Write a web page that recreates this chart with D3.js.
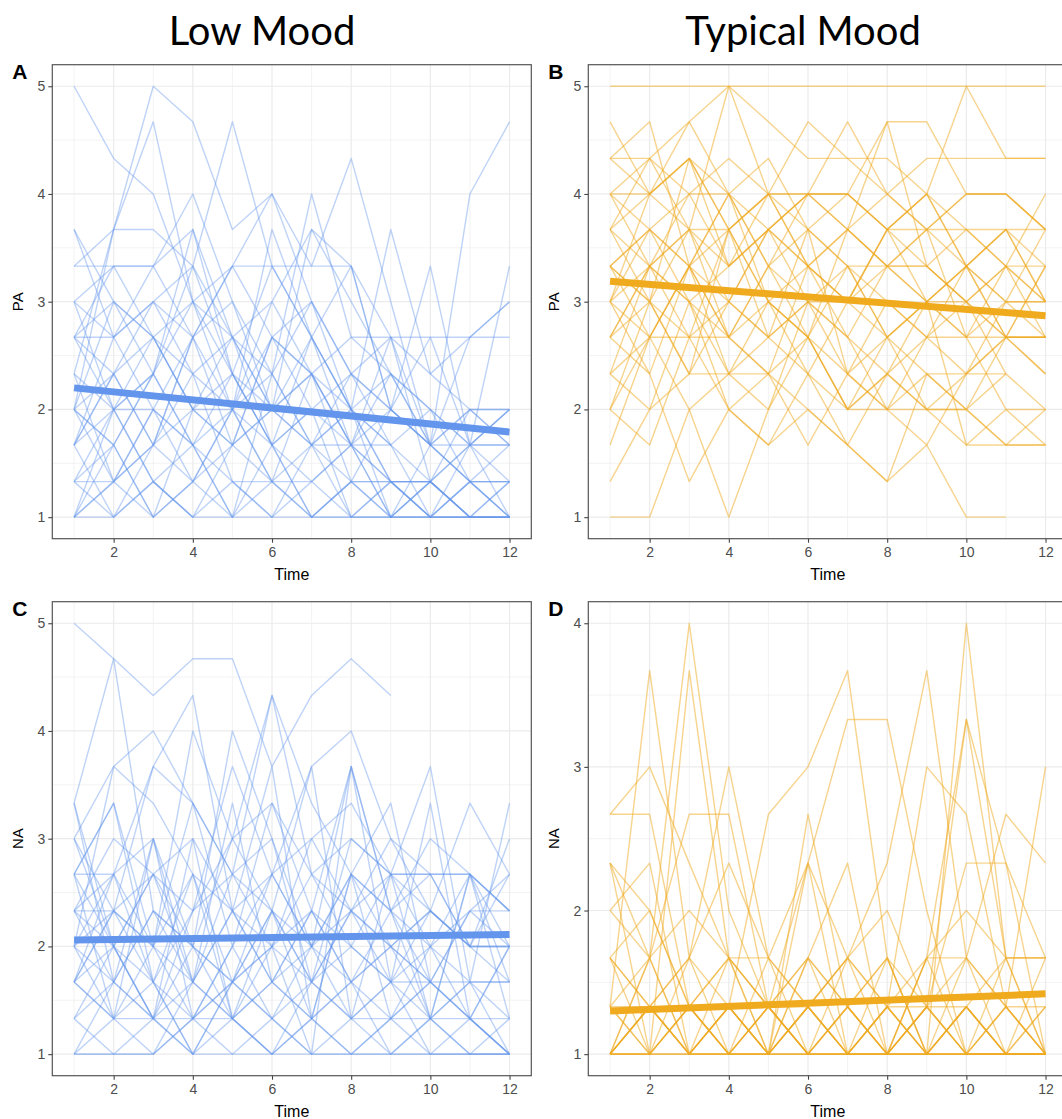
<!DOCTYPE html>
<html><head><meta charset="utf-8">
<script src="https://cdn.jsdelivr.net/npm/d3@7"></script>
<style>body{margin:0;background:#fff}svg{display:block}</style>
</head><body>
<svg id="chart" width="1062" height="1119"></svg>
<script>
const times = [1,2,3,4,5,6,7,8,9,10,11,12];
const columnTitles = ["Low Mood", "Typical Mood"];
const panelLetters = ["A","B","C","D"];
const yLabels = ["PA","PA","NA","NA"];
const xTicks = [2,4,6,8,10,12];
const yTicksPA = [1,2,3,4,5];
const yTicksNA_low = [1,2,3,4,5];
const yTicksNA_typ = [1,2,3,4];

// Panel A: PA, low mood participants
const lowPA = [
[5,4.33,4,3,2.33,2,1.67,2,1.33,1,1.33,1],
[3.33,3.67,5,4.67,3.67,4,3,2.33,2,1.67,2,1.67],
[2,3.67,4.67,3,2.67,2,2.33,1.67,1.33,1.33,1,1],
[1.67,2.33,3,3.33,4.67,3.33,2.67,2,2.33,1.67,1.33,1.33],
[2.67,3.33,3.33,4,3,2.33,4,2.67,2.67,2.67,2.67,3],
[1,1.67,2.33,3,3.33,4,3.33,4.33,3,1.67,4,4.67],
[3.67,2.67,2,1.67,2.33,3.33,2.67,2,3.67,2.33,2,2],
[3,2.67,3.33,3.67,2.67,3,3.67,3.33,2,3.33,1.67,3.33],
[2.33,3.67,3.67,3.33,2.67,2,1.67,1.33,1.33,1.33,1,1],
[3.33,3.33,3.33,2.67,3.33,3.33,3.33,3.33,2,1.67,2.67,3],
[1,1.33,2,2.67,3.33,2.67,2.33,1.67,1,1.33,1.67,2],
[2.67,2,1.33,1,1.67,2.67,2,1,1.33,1,1,1.33],
[2,1.67,1,1.33,2,1.67,1,1.33,2,2.67,1.67,1.67],
[1.33,1,1.67,2.33,1.33,1,1.67,2.33,1.67,1,1,1],
[2.67,3,2.33,1.67,1,2.33,3,2,1,1,1.33,1.67],
[1.67,2,2.67,2,1.67,1.33,1.33,1.67,2,1.67,null,null],
[1,1,1.33,1,1,1.33,1,1,1,1.33,1,1],
[2,2.33,1.67,2.67,3,2,2.33,2.67,2.33,2,1.67,2],
[3,2,2.33,3.33,2.33,1.67,2,1.67,1.33,1.33,1.67,1.33],
[1.33,1.67,1,2,2.67,2.33,1.67,1,1.33,1,1,1],
[2.33,1.33,2,1.33,1.67,2,2.67,1.67,2.67,1.33,2,1.67],
[1.67,1,1.33,1.67,1,1.67,1.33,1,1,1,1.33,1],
[2.67,2.67,3,2.33,2,3,2.33,1.67,1.67,2,1.67,1.67],
[1,2,1.33,1,1.33,1,1.33,1.67,1,1,1,1],
[2,3,2.67,2,2.33,1.67,2,2.33,2.67,2.33,2.67,2.67],
[3.67,3,2.67,2,2,2.67,3,2.33,2,1.67,1.33,1.33],
[1.33,1.33,1,1.33,2,1.33,1,1.33,1.33,1,1.67,1],
[2.33,2,2,1.67,1.33,1.33,1.67,2,1.33,1.33,1,1.33],
[1.67,2.67,3,2.67,1.67,2,3.67,3,2.33,1.67,1.67,2],
[2,1.67,2.33,3.67,2.33,1.67,1,1,1,1,1,1],
[1,1.33,1.67,1.33,1,1,1,1.33,1,1.33,1,1],
[2.67,2.33,1.67,2,1.67,2.67,2.33,2,1.67,null,null,null],
[3,3.33,2.67,2.33,2.67,1.67,2.67,3.33,2.67,1.67,2,2],
[1.33,2,2.33,1.67,2,2.33,1.67,1.67,2.33,2,1.33,1],
[2,1.33,1.67,2.67,2,1.33,2.33,1.33,1,1.67,1.33,1.33],
[1.67,2.33,2.67,3,2,3.67,2.67,2,1.67,1.33,null,null]
];

// Panel B: PA, typical mood participants
const typPA = [
[5,5,5,5,5,5,5,5,5,5,5,5],
[4.67,4,4.67,5,4.67,4.33,4.33,4.33,4,5,4.33,4.33],
[4.33,4.33,4.67,4,3.67,4,4,4.67,4.67,4,4,3.67],
[4,4,4.33,3.67,4,4,3.67,3.33,3,3.33,3.67,3],
[3.67,4.33,3.67,5,4,3.33,3,3.67,3,2.67,3.33,2.67],
[3.33,3,4.33,3.33,3.67,4,4.67,4,3.67,4,4,3.67],
[3,4,4.33,4,3.33,3.67,3.33,2.67,3,3.33,3,2.67],
[2.67,3.33,3.67,3,2.67,3,2.33,2,2.67,2.33,2.67,3.33],
[2.33,2,3,2.67,3.33,2.67,2,2.33,2,2,2.33,2],
[1,1,2,2.33,3,3.33,2.67,2,1.67,1,1,null],
[2,3,2.33,3.67,3,2.33,1.67,2.33,3,1.67,1.67,1.67],
[3.33,2.67,3.33,2.67,2.33,2,1.67,1.33,1.67,2.33,2.67,2.67],
[4,3.33,3.67,3.33,4,3.67,3.33,3.33,3.33,3.67,3.33,3],
[2.67,2.33,1.33,2,1.67,2.33,3,3.67,4,3.33,2.67,2.33],
[1.67,2.67,3.33,2.67,2.33,2.67,3.67,4.67,3.33,3,2.67,3.33],
[3,2.67,2.67,2.67,3,2.67,3.33,3,2.67,2.67,2.67,2.67],
[4.33,4.67,3.33,3.67,3,2.67,2,2.33,2,2,1.67,2],
[3.67,3.33,3,2,2.33,3.33,3,3.67,4,3.67,3.33,4],
[2.33,3.33,2.67,3,3.67,4,4,3.67,3.33,3,3.33,3.33],
[3.33,3.67,3,2.33,2.67,3.67,2.33,2,2,2.33,3,3.67],
[1.33,2,2.33,3,2.67,3,2.67,2.33,2.67,3,2.33,null],
[3,3.33,4,3.33,3.67,3.33,3.67,4,3.67,3.33,3.67,3.33],
[4,4.33,4,4.33,4,4,4,3.67,3.67,3.67,3.67,3.67],
[2.67,3,2.33,2.33,2.33,1.67,2.33,2.67,2.33,2,2.67,2.33],
[3.67,4,3.67,3.67,4,3.33,3,2.67,3,2.67,3,3],
[2,1.67,2.67,2,1.67,2,1.67,1.33,2.33,2,1.67,1.67],
[3.33,3.67,4,4,3.33,3,3,3.33,3,3.33,3,3],
[2.33,2.67,2,1,2,2.67,2.33,3,2.67,3.33,3.67,3],
[4,3.67,3.33,4,4.33,3.67,4,3.67,4,3.33,2.67,2.67],
[3,2.33,3.33,4,3,2.67,2,2.67,2,1.67,2,2],
[3.67,3,3.67,2.67,3.33,4,3.67,3.33,3.67,4,4,3.67],
[2.67,3.33,3,3.33,3.67,3,3.33,2.67,3,3,3.33,3],
[4.33,4,4.33,3.67,4,4.67,4.33,4,4.33,4.33,4.33,4.33],
[3.33,3,2.67,3.67,2.67,2.33,2,2,2.33,2.33,2.33,null],
[2,2.67,3.33,2.33,2,3,2.67,3.33,3.67,2.67,2,1.67],
[3,3.67,3.33,3,3.67,3.33,3.67,3.33,3.33,3,2.67,2.67]
];

// Panel C: NA, low mood participants
const lowNA = [
[5,4.67,4.33,4.67,4.67,3.67,4.33,4.67,4.33,null,null,null],
[3.33,4.67,2.33,2,1.67,2.33,2,2.67,2.33,3,2.67,2.33],
[2,3.67,4,3.33,2.67,4.33,2.67,2,1.67,2.33,2,2],
[1.67,2.33,3.67,4.33,2.33,1.67,2,3.67,2.33,1.67,2.33,2],
[2.67,3.33,2,4,3,2.33,1.67,3,2.67,3.67,1.67,3.33],
[1,1.67,2.33,2,4,3,1.67,2.33,2,1.33,1.67,1],
[3,2.33,2,1.67,2.67,2.33,3.67,4,3,2.33,2,2],
[2.33,2.67,3.67,3.33,2,3.33,2.33,1.67,1.33,1.67,1.33,1.33],
[1.33,1,1,1.33,1,1.33,1,1,1,1,1,1],
[2,1.33,1.67,1,1.33,1,1.33,1.67,1,1.33,1,1.33],
[2.67,2.67,2,2.67,1.67,2,2.67,2.33,2.67,2,2.33,2.67],
[1.67,1.33,1.33,2,1.67,1.33,2,1.33,1.67,1.33,1.33,1],
[3.33,2,2.67,1.67,3.33,1.67,2.33,3.67,2.33,1.33,2.67,1.67],
[1,1,1.33,1,1,1,1.33,1,1,1,1,1],
[2.33,2,1.67,1.33,2,2.67,2,1.67,2,2.33,2,2],
[1.67,2,2.67,2.33,3,4.33,3.33,2.67,2.33,2,2.67,2.33],
[3,3.67,3.33,2.67,2.33,2,1.67,2,2.67,2.67,2.67,2],
[2,2.67,1.67,2.33,2.67,2,3,2.33,2,1.67,2.33,2.33],
[1.33,2,1.33,1,1.67,2.33,1.67,1.33,1.67,1,1.33,1],
[2.67,1.33,3,1.67,2.33,3.67,1.33,2.67,3.33,1.67,1.33,2],
[2,1.67,1.33,1.67,2.33,1.67,1.33,1.67,2,1.67,1.67,1.67],
[1.67,1.33,1,1.67,1.33,1,1.67,1.33,1,1.33,1.67,1.33],
[2.33,3,2.67,2,3,3.33,2.67,3,2.67,2.67,2.67,2.33],
[1,1.33,2,1.33,1.33,1,1,1.33,1.33,1.67,1.33,1],
[3,2,1.33,2.33,3.67,2.67,2,2.67,2,2.33,3.33,2.67],
[2.33,2.33,2.67,3,2.33,2.67,3,3.33,2.67,2.33,2,2.67],
[1.67,2.33,1.67,1,1.67,2,2.33,2,1.67,2,1.67,1.67],
[2.67,3.33,1.67,2.67,1.33,2.33,1.33,2.67,1.33,2,1.33,2],
[1.33,1.67,2.33,1.67,1.33,1.67,1.33,1,1.33,1.33,1,1],
[2,2.33,2,3.33,2.67,3,2,2.33,3,2.67,2,3],
[2.33,1.67,1.33,1.33,2,1.33,1.67,2.33,1.67,1.67,null,null],
[3.33,1.67,3,1.33,1.67,2.67,3.67,1.33,2.67,1.33,2.67,1.33],
[1,1,1,1.33,1.67,1.33,1,1,1.33,1,1,1],
[2.67,2,1.33,3,1.33,2,1,3.67,1.67,3.33,1.33,1],
[1.67,2.67,3,2,1.33,1.67,2.33,1.67,2.33,2.67,2,1.67]
];

// Panel D: NA, typical mood participants
const typNA = [
[2.67,2.67,1.33,1,1,1.33,1,1,1.33,1,1,1],
[2.67,3,2.33,1.67,1.33,1,1,1.33,1,1,1.33,1],
[1.33,3.67,1.67,1.33,1,1.33,1,1,1,1.33,1,1],
[1,1.67,4,2,1.33,1,1.33,1,1.67,1,1,1],
[1.67,1,3.67,1.67,1,1.67,1,1.33,1,1,1,1.33],
[2.33,1.67,2.67,2.67,1.33,1,1.33,1,1,1.33,1,1],
[1,1.33,1.67,3,1.67,1.33,1,1,1.33,1,1.67,1],
[1.33,1,1,1.33,2.67,3,3.67,1.67,1,1.33,1,1],
[1,1,1.33,1,1.33,2.33,3.33,3.33,2,1,1,1],
[2.33,2,1.33,1,1,1.33,1.67,2.33,3.67,1.67,1,1.33],
[1,1.33,1,1.33,1,2.67,1.33,1.67,1,4,1.67,1],
[1.67,1.33,1,1,1.67,1,1,1.33,3,2.67,1.33,1],
[1,1,1.33,1.67,1,1,1,1,1.67,3.33,2.33,1],
[2,2.33,1,1.33,1.33,1.67,2.33,1,1.33,2.33,2.33,1.67],
[1,1,1,1,1,1,1,1,1,1,1,1],
[1.33,1.67,1,1.33,1,2.33,1,1.33,1,1.67,2.67,2.33],
[1,1.33,1.67,1,1.33,1,1.33,1,1.33,1,1.33,3],
[1.67,1.33,1.33,1.67,1.33,1.33,1.67,1.33,1.33,1.67,1.33,1.33],
[2,1.67,2,1.67,1.33,1.67,1.33,1.67,1.33,1.33,1.67,1.67],
[1,1,1.33,1,1,1.33,1,1,1,1.33,1,1],
[1.33,1.33,1,1.67,1.67,1.33,1.67,2,1.33,3.33,1.67,1.67],
[1,1.33,1,1,1.33,1,1,1.33,1,1,1,1],
[1.67,2,1.33,1.33,1,1.67,1.33,1,1.67,1.67,1.33,1],
[1,1,1,1.33,1,1,1.33,1,1,1,1,1],
[2.33,1,1.67,2.33,1.67,2.33,1.67,1.33,1.67,2,1.67,1.67],
[1,1.67,1,1,1,1,1,1.67,1,1.33,1,1],
[1.33,1,1.33,1,1,1.33,1,1,1.33,1,1,1.67],
[1,1.33,1,1,1.33,1,1.67,1,1,1,1.33,1]
];

// Fitted group trend lines: values at time 1 and time 12
const fitTimes = [1, 12];
const fitLowPA = [2.20, 1.79];
const fitTypPA = [3.19, 2.87];
const fitLowNA = [2.06, 2.11];
const fitTypNA = [1.30, 1.42];

const BLUE = "#6495ED", ORANGE = "#F0AA1E";

const panels = [
  {data: lowPA, fit: fitLowPA, color: BLUE,   op: 0.42, left: 52.3,  top: 64.7,  ydom: [0.8, 5.2],  yt: yTicksPA,     letter: panelLetters[0], ylab: yLabels[0]},
  {data: typPA, fit: fitTypPA, color: ORANGE, op: 0.5,  left: 588.3, top: 64.7,  ydom: [0.8, 5.2],  yt: yTicksPA,     letter: panelLetters[1], ylab: yLabels[1]},
  {data: lowNA, fit: fitLowNA, color: BLUE,   op: 0.42, left: 52.3,  top: 601.7, ydom: [0.8, 5.2],  yt: yTicksNA_low, letter: panelLetters[2], ylab: yLabels[2]},
  {data: typNA, fit: fitTypNA, color: ORANGE, op: 0.5,  left: 588.3, top: 601.7, ydom: [0.85, 4.15], yt: yTicksNA_typ, letter: panelLetters[3], ylab: yLabels[3]}
];
const PW = 479, PH = 474;

const svg = d3.select("#chart");
svg.append("rect").attr("width",1062).attr("height",1119).attr("fill","#fff");

// column titles
[[262, columnTitles[0]], [803, columnTitles[1]]].forEach(([cx, t]) => {
  svg.append("text").attr("x", cx).attr("y", 45).attr("text-anchor","middle")
    .attr("font-family","Lato, 'Open Sans', sans-serif").attr("font-size", 40).attr("fill","#000").text(t);
});

panels.forEach(p => {
  const g = svg.append("g").attr("transform", `translate(${p.left},${p.top})`);
  const x = d3.scaleLinear().domain([0.45, 12.55]).range([0, PW]);
  const y = d3.scaleLinear().domain(p.ydom).range([PH, 0]);

  // grid
  const grid = g.append("g");
  const minorX = d3.range(1, 13, 2);
  const minorY = d3.range(Math.ceil(p.ydom[0]) - 0.5, p.ydom[1], 1).filter(v => v > p.ydom[0] && v < p.ydom[1]);
  grid.selectAll(".mx").data(minorX).join("line").attr("x1", d=>x(d)).attr("x2", d=>x(d)).attr("y1",0).attr("y2",PH)
    .attr("stroke","#EBEBEB").attr("stroke-width",0.6);
  grid.selectAll(".my").data(minorY).join("line").attr("y1", d=>y(d)).attr("y2", d=>y(d)).attr("x1",0).attr("x2",PW)
    .attr("stroke","#EBEBEB").attr("stroke-width",0.6);
  grid.selectAll(".Mx").data(xTicks).join("line").attr("x1", d=>x(d)).attr("x2", d=>x(d)).attr("y1",0).attr("y2",PH)
    .attr("stroke","#EBEBEB").attr("stroke-width",1.2);
  grid.selectAll(".My").data(p.yt).join("line").attr("y1", d=>y(d)).attr("y2", d=>y(d)).attr("x1",0).attr("x2",PW)
    .attr("stroke","#EBEBEB").attr("stroke-width",1.2);

  // individual trajectories
  const line = d3.line().defined(d => d[1] != null).x(d => x(d[0])).y(d => y(d[1]));
  g.append("g").selectAll("path").data(p.data).join("path")
    .attr("d", row => line(times.map((t,i) => [t, row[i]])))
    .attr("fill","none").attr("stroke", p.color).attr("stroke-width", 1.4)
    .attr("stroke-opacity", p.op).attr("stroke-linejoin","round");

  // fitted line
  g.append("path").attr("d", line(fitTimes.map((t,i)=>[t, p.fit[i]])))
    .attr("fill","none").attr("stroke", p.color).attr("stroke-width", 7);

  // border
  g.append("rect").attr("width", PW).attr("height", PH).attr("fill","none").attr("stroke","#555").attr("stroke-width",1.2);

  // axes
  const ax = g.append("g").attr("transform", `translate(0,${PH})`)
    .call(d3.axisBottom(x).tickValues(xTicks).tickFormat(d3.format("d")).tickSize(4).tickPadding(4));
  const ay = g.append("g").call(d3.axisLeft(y).tickValues(p.yt).tickFormat(d3.format("d")).tickSize(4).tickPadding(3));
  [ax, ay].forEach(a => {
    a.select(".domain").remove();
    a.selectAll(".tick line").attr("stroke","#444").attr("stroke-width",1.1);
    a.selectAll(".tick text").attr("fill","#4D4D4D").attr("font-size",14).attr("font-family","Liberation Sans, Arial, sans-serif");
  });

  // axis titles
  g.append("text").attr("x", PW/2).attr("y", PH + 41).attr("text-anchor","middle")
    .attr("font-family","Liberation Sans, Arial, sans-serif").attr("font-size",16).attr("fill","#000").text("Time");
  g.append("text").attr("transform", `translate(-29,${PH/2}) rotate(-90)`).attr("text-anchor","middle")
    .attr("font-family","Liberation Sans, Arial, sans-serif").attr("font-size",15).attr("fill","#000").text(p.ylab);

  // panel letter
  g.append("text").attr("x", -40).attr("y", 14).attr("font-family","Liberation Sans, Arial, sans-serif")
    .attr("font-weight","bold").attr("font-size",21).attr("fill","#000").text(p.letter);
});
</script>
</body></html>
